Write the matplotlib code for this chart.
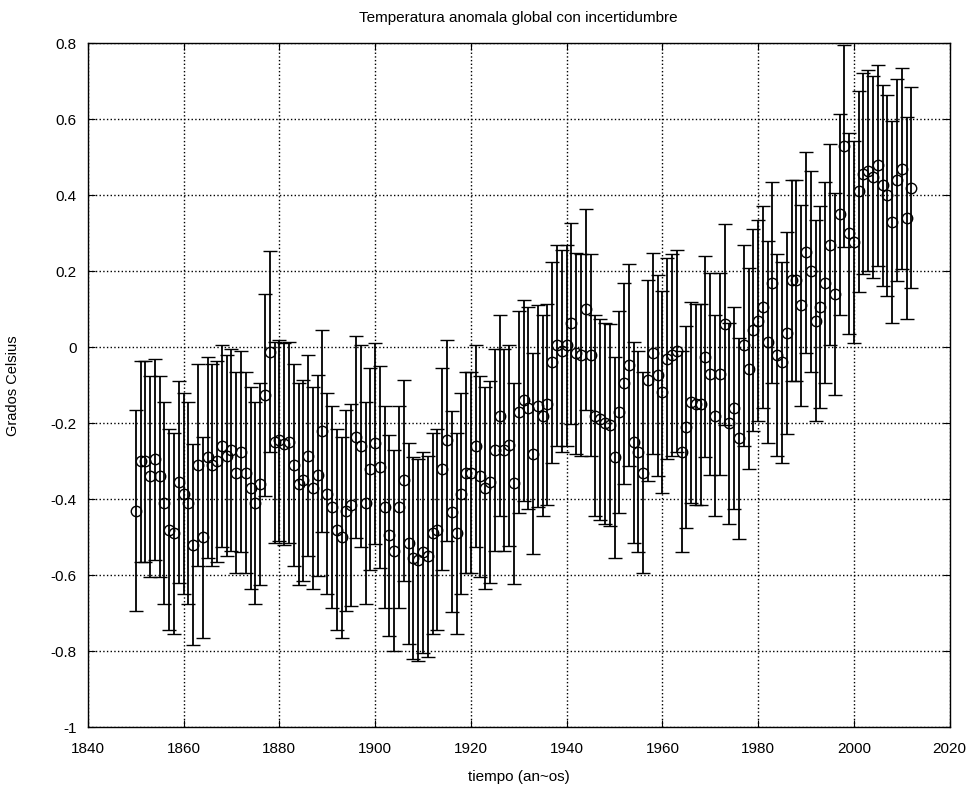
import numpy as np
import matplotlib
matplotlib.use("Agg")
import matplotlib.pyplot as plt

plt.rcParams['font.family'] = ['Liberation Sans', 'DejaVu Sans']

# annual global anomaly (deg C), 1850-2012
years = list(range(1850, 2013))
anomaly = [
    -0.43, -0.30, -0.30, -0.34, -0.295, -0.34, -0.41, -0.48, -0.49, -0.355,   # 1850s
    -0.385, -0.41, -0.52, -0.31, -0.50, -0.29, -0.31, -0.30, -0.26, -0.285,   # 1860s
    -0.27, -0.33, -0.275, -0.33, -0.37, -0.41, -0.36, -0.126, -0.012, -0.25,  # 1870s
    -0.245, -0.255, -0.25, -0.31, -0.36, -0.35, -0.285, -0.37, -0.337, -0.22, # 1880s
    -0.385, -0.42, -0.48, -0.50, -0.43, -0.415, -0.236, -0.26, -0.41, -0.32,  # 1890s
    -0.253, -0.315, -0.42, -0.495, -0.535, -0.42, -0.35, -0.516, -0.555, -0.56,  # 1900s
    -0.54, -0.55, -0.49, -0.48, -0.32, -0.245, -0.433, -0.49, -0.385, -0.33,  # 1910s
    -0.33, -0.26, -0.34, -0.37, -0.355, -0.27, -0.18, -0.27, -0.258, -0.358,  # 1920s
    -0.17, -0.14, -0.16, -0.28, -0.155, -0.18, -0.15, -0.04, 0.005, -0.01,    # 1930s
    0.005, 0.063, -0.016, -0.02, 0.10, -0.02, -0.18, -0.19, -0.20, -0.205,    # 1940s
    -0.29, -0.17, -0.095, -0.047, -0.25, -0.275, -0.33, -0.087, -0.016, -0.074,  # 1950s
    -0.118, -0.03, -0.02, -0.01, -0.275, -0.21, -0.145, -0.15, -0.15, -0.025,    # 1960s
    -0.07, -0.18, -0.07, 0.06, -0.20, -0.16, -0.24, 0.005, -0.056, 0.045,     # 1970s
    0.07, 0.106, 0.014, 0.17, -0.02, -0.04, 0.037, 0.176, 0.176, 0.11,        # 1980s
    0.25, 0.20, 0.07, 0.106, 0.17, 0.27, 0.14, 0.35, 0.53, 0.30,              # 1990s
    0.277, 0.41, 0.457, 0.465, 0.448, 0.479, 0.426, 0.40, 0.33, 0.44,         # 2000s
    0.47, 0.34, 0.42,                                                         # 2010s
]
uncertainty = 0.265  # half-width of the error bars

xticks = [1840, 1860, 1880, 1900, 1920, 1940, 1960, 1980, 2000, 2020]
yticks = [-1, -0.8, -0.6, -0.4, -0.2, 0, 0.2, 0.4, 0.6, 0.8]
ytick_labels = ['-1', '-0.8', '-0.6', '-0.4', '-0.2', '0', '0.2', '0.4', '0.6', '0.8']

fig = plt.figure(figsize=(9.76, 7.87), dpi=100)
ax = fig.add_axes([0.090, 0.076, 0.883, 0.869])

ax.errorbar(years, anomaly, yerr=uncertainty, fmt='o', color='black',
            mfc='none', mec='black', ms=7.5, mew=1.0,
            ecolor='black', elinewidth=1.3, capsize=5, capthick=1.3)

ax.set_xlim(1840, 2020)
ax.set_ylim(-1, 0.8)
ax.set_xticks(xticks)
ax.set_yticks(yticks)
ax.set_yticklabels(ytick_labels)
ax.grid(True, linestyle=':', color='black', linewidth=1.0)
ax.tick_params(direction='in', top=True, right=True, labelsize=11, length=5)
ax.tick_params(axis='x', pad=11)
ax.tick_params(axis='y', pad=8)
for s in ax.spines.values():
    s.set_linewidth(1.0)

ax.set_title('Temperatura anomala global con incertidumbre', fontsize=11, pad=15)
ax.set_xlabel('tiempo (an~os)', fontsize=11, labelpad=10)
ax.set_ylabel('Grados Celsius', fontsize=10.5, labelpad=22)

fig.savefig('out.png', dpi=100)
